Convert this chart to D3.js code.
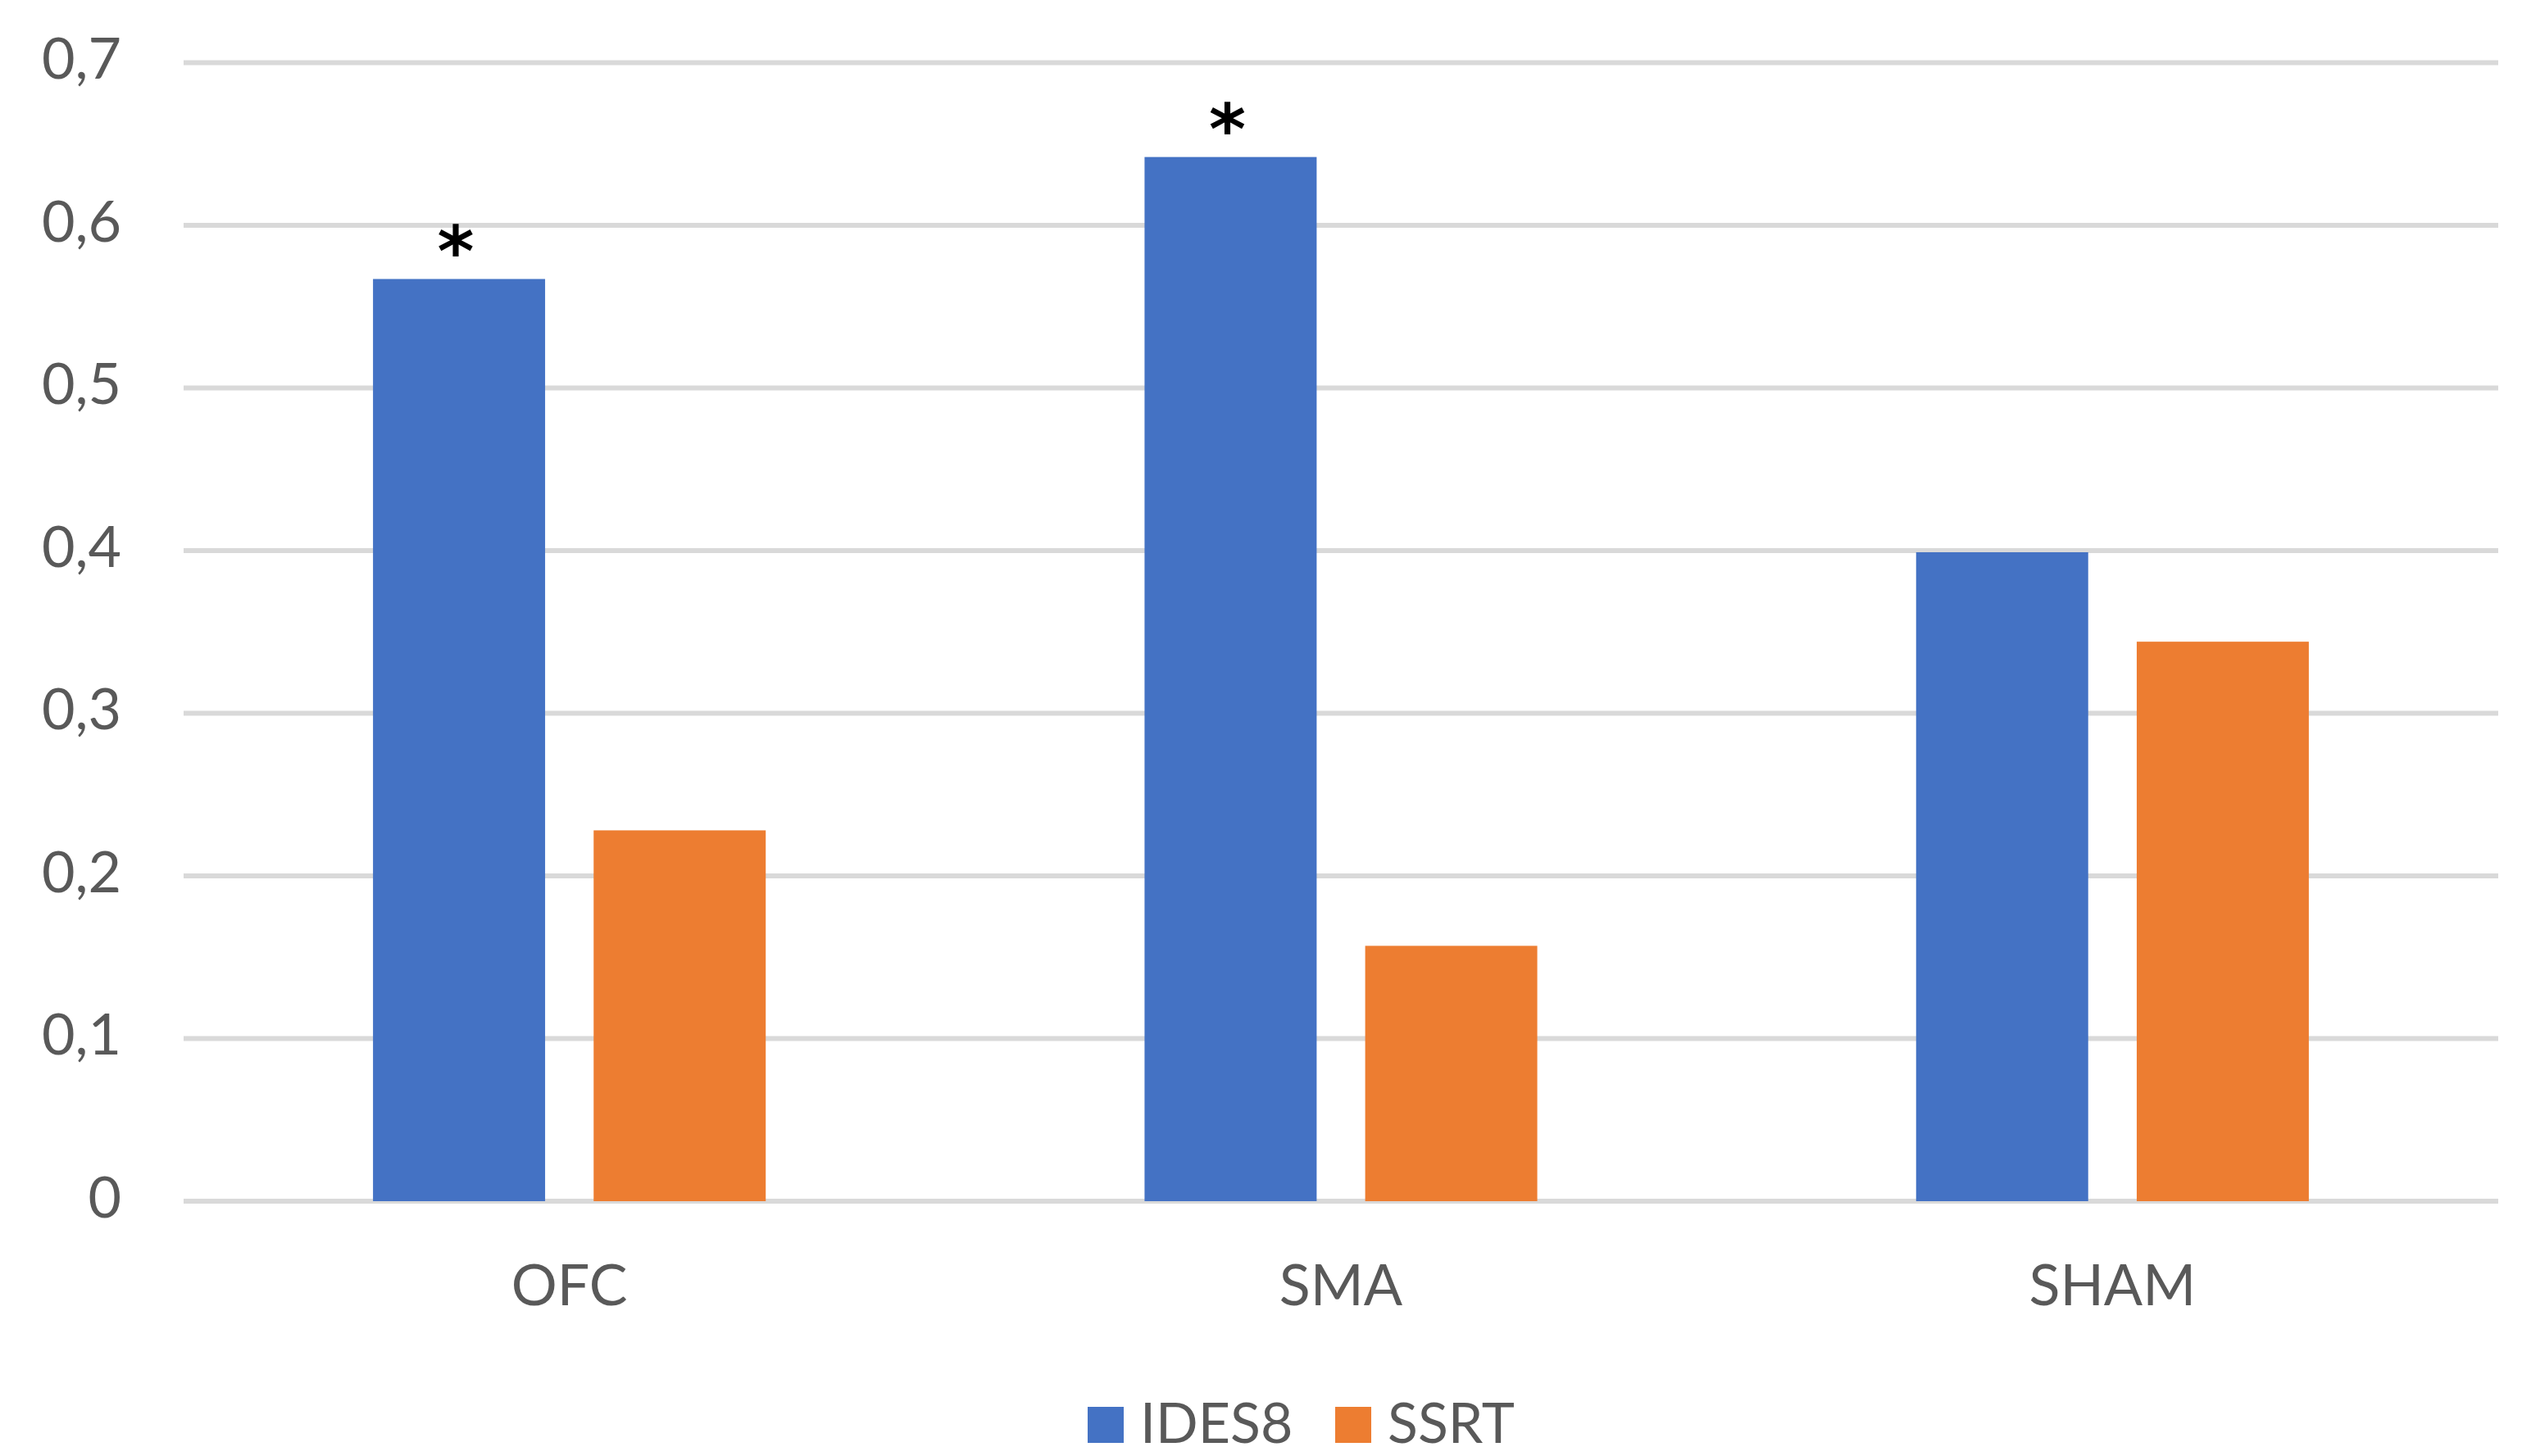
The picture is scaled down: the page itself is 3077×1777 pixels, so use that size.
<!DOCTYPE html>
<html><head><meta charset="utf-8">
<script src="https://cdn.jsdelivr.net/npm/d3@7"></script>
<style>html,body{margin:0;padding:0;background:#fff;} svg{display:block}</style>
</head><body>
<svg id="chart" width="3077" height="1777"></svg>
<script>
const categories = ["OFC", "SMA", "SHAM"];
const seriesNames = ["IDES8", "SSRT"];
const ides8Values = [0.567, 0.642, 0.399];
const ssrtValues = [0.228, 0.157, 0.344];
const ides8Marks = ["*", "*", ""];
const yTickValues = [0, 0.1, 0.2, 0.3, 0.4, 0.5, 0.6, 0.7];
const seriesColors = ["#4472C4", "#ED7D31"];

const FONT = "Lato, 'Open Sans', sans-serif";
const TEXT = "#595959";
const W = 3077, H = 1777;
const plot = {left: 224, right: 3048, top: 76.5, bottom: 1466};

const svg = d3.select("#chart");
svg.append("rect").attr("width", W).attr("height", H).attr("fill", "#fff");

const rows = categories.map((c, i) => ({
  cat: c,
  vals: [ides8Values[i], ssrtValues[i]],
  mark: ides8Marks[i]
}));

const y = d3.scaleLinear().domain([0, 0.7]).range([plot.bottom, plot.top]);
const x0 = d3.scaleBand().domain(categories).range([plot.left, plot.right]).padding(0);
const bw = x0.bandwidth();
const x1 = d3.scaleBand().domain(seriesNames)
  .range([bw * 0.2455, bw * 0.7545]).paddingInner(0.22);

const fmt = d => d === 0 ? "0" : d3.format(".1f")(d).replace(".", ",");

// gridlines
svg.append("g").selectAll("line").data(yTickValues).join("line")
  .attr("x1", plot.left).attr("x2", plot.right)
  .attr("y1", d => y(d)).attr("y2", d => y(d))
  .attr("stroke", "#d9d9d9").attr("stroke-width", 6);

// y axis labels via d3 axis
const yAxis = d3.axisLeft(y).tickValues(yTickValues).tickFormat(fmt).tickSize(0).tickPadding(0);
const yg = svg.append("g").attr("transform", `translate(148,0)`).call(yAxis);
yg.select(".domain").remove();
yg.selectAll("text")
  .attr("font-family", FONT).attr("font-size", 70).attr("fill", TEXT)
  .attr("dy", null).attr("y", 19)
  .attr("dominant-baseline", "alphabetic");

// bars
const groups = svg.append("g").selectAll("g").data(rows).join("g")
  .attr("transform", d => `translate(${x0(d.cat)},0)`);
groups.selectAll("rect").data(d => d.vals.map((v, i) => ({v, s: seriesNames[i], i}))).join("rect")
  .attr("x", d => x1(d.s)).attr("width", x1.bandwidth())
  .attr("y", d => y(d.v)).attr("height", d => y(0) - y(d.v))
  .attr("fill", d => seriesColors[d.i]);

// significance marks
groups.append("text")
  .attr("x", x1("IDES8") + x1.bandwidth() / 2 - 4)
  .attr("y", d => y(d.vals[0]) - 4)
  .attr("text-anchor", "middle")
  .attr("font-family", "'DejaVu Sans', sans-serif").attr("font-weight", "bold")
  .attr("font-size", 86).attr("fill", "#000")
  .text(d => d.mark);

// x axis labels
const xAxis = d3.axisBottom(x0).tickSize(0).tickPadding(0);
const xg = svg.append("g").attr("transform", `translate(0,1593)`).call(xAxis);
xg.select(".domain").remove();
xg.selectAll("text")
  .attr("font-family", FONT).attr("font-size", 70).attr("fill", TEXT)
  .attr("dy", null).attr("y", 0);

// legend
const legendItems = [
  {name: seriesNames[0], color: seriesColors[0], x: 1327},
  {name: seriesNames[1], color: seriesColors[1], x: 1629}
];
const lg = svg.append("g").selectAll("g").data(legendItems).join("g")
  .attr("transform", d => `translate(${d.x},0)`);
lg.append("rect").attr("x", 0).attr("y", 1717).attr("width", 44).attr("height", 44)
  .attr("fill", d => d.color);
lg.append("text").attr("x", 64).attr("y", 1761)
  .attr("font-family", FONT).attr("font-size", 68).attr("fill", TEXT)
  .text(d => d.name);
</script>
</body></html>
